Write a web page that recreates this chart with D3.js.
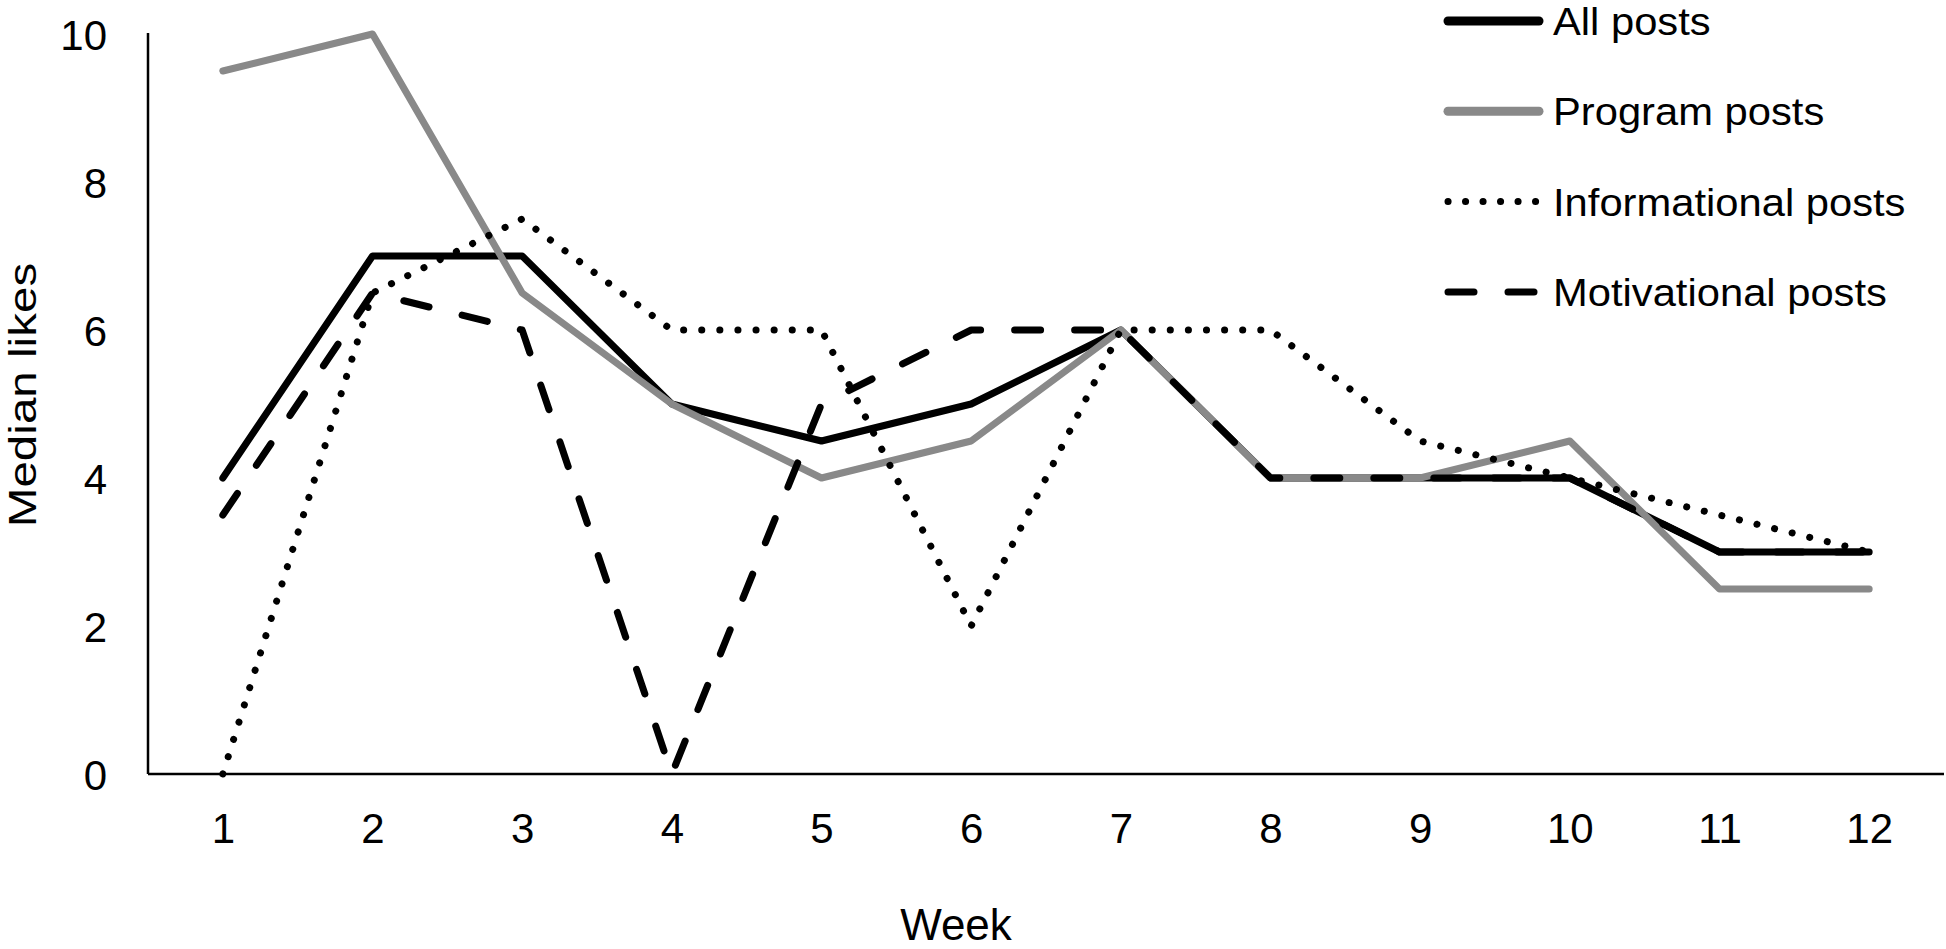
<!DOCTYPE html>
<html>
<head>
<meta charset="utf-8">
<script src="https://cdn.jsdelivr.net/npm/d3@7/dist/d3.min.js"></script>
<style>
  html, body { margin: 0; padding: 0; background: #fff; }
  svg { display: block; font-family: "Liberation Sans", Arial, sans-serif; }
</style>
</head>
<body>
<svg id="chart" width="1946" height="949"></svg>
<script>
const weeks = [1, 2, 3, 4, 5, 6, 7, 8, 9, 10, 11, 12];
const allPosts = [4, 7, 7, 5, 4.5, 5, 6, 4, 4, 4, 3, 3];
const programPosts = [9.5, 10, 6.5, 5, 4, 4.5, 6, 4, 4, 4.5, 2.5, 2.5];
const informationalPosts = [0, 6.5, 7.5, 6, 6, 2, 6, 6, 4.5, 4, 3.5, 3];
const motivationalPosts = [3.5, 6.5, 6, 0, 5, 6, 6, 4, 4, 4, 3, 3];
const seriesNames = ["All posts", "Program posts", "Informational posts", "Motivational posts"];
const yTicks = [0, 2, 4, 6, 8, 10];

const styles = [
  { color: "#000000", dash: null },
  { color: "#898989", dash: null },
  { color: "#000000", dash: "0.1,18" },
  { color: "#000000", dash: "26,34" }
];
const seriesValues = [allPosts, programPosts, informationalPosts, motivationalPosts];

const svg = d3.select("#chart");
const plotLeft = 148, plotRight = 1944, plotTop = 34, plotBottom = 774;

const x = d3.scalePoint().domain(weeks).range([plotLeft, plotRight]).padding(0.5);
const y = d3.scaleLinear().domain([0, 10]).range([plotBottom, plotTop]);

// Axes
const xAxis = svg.append("g").attr("transform", `translate(0,${plotBottom})`)
  .call(d3.axisBottom(x).tickSize(0).tickPadding(0));
xAxis.select(".domain").attr("d", `M${plotLeft},0H${plotRight}`).attr("stroke", "#000").attr("stroke-width", 2.5);
xAxis.selectAll(".tick text").attr("font-size", 42).attr("fill", "#000")
  .attr("y", 69).attr("dy", null);

const yAxis = svg.append("g").attr("transform", `translate(${plotLeft},0)`)
  .call(d3.axisLeft(y).tickValues(yTicks).tickSize(0).tickPadding(0));
yAxis.select(".domain").attr("d", `M0,${plotTop - 1}V${plotBottom}`).attr("stroke", "#000").attr("stroke-width", 2.5);
yAxis.selectAll(".tick text").attr("font-size", 42).attr("fill", "#000")
  .attr("x", -41).attr("dy", "0.36em");

// Axis titles
svg.append("text").attr("x", 956).attr("y", 940).attr("text-anchor", "middle")
  .attr("font-size", 44).attr("fill", "#000").text("Week");
svg.append("text").attr("transform", "translate(36,395) rotate(-90) scale(1.22,1)")
  .attr("text-anchor", "middle").attr("font-size", 39).attr("fill", "#000").text("Median likes");

// Lines
const line = d3.line().x((d, i) => x(weeks[i])).y(d => y(d));
seriesValues.forEach((vals, k) => {
  const p = svg.append("path").datum(vals).attr("d", line)
    .attr("fill", "none").attr("stroke", styles[k].color)
    .attr("stroke-width", 7).attr("stroke-linejoin", "round")
    .attr("stroke-linecap", "round");
  if (styles[k].dash) p.attr("stroke-dasharray", styles[k].dash);
});

// Legend
const legend = svg.append("g");
seriesNames.forEach((name, k) => {
  const ly = 21 + k * 90.3;
  const l = legend.append("line").attr("x1", 1448).attr("x2", 1539).attr("y1", ly).attr("y2", ly)
    .attr("stroke", styles[k].color).attr("stroke-width", k < 2 ? 9 : 7).attr("stroke-linecap", "round");
  if (k === 2) l.attr("stroke-dasharray", "0.1,17.4");
  if (k === 3) l.attr("stroke-dasharray", "26,34").attr("x2", 1537);
  legend.append("text").attr("transform", `translate(1553,${ly + 14}) scale(1.07,1)`)
    .attr("font-size", 39).attr("fill", "#000").text(name);
});
</script>
</body>
</html>
